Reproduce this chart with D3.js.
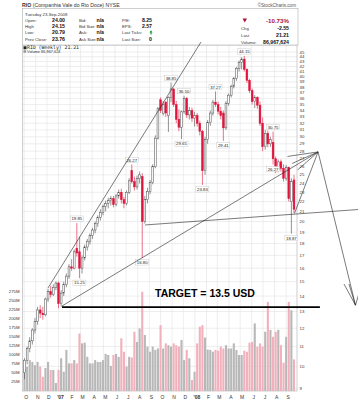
<!DOCTYPE html>
<html>
<head>
<meta charset="utf-8">
<script src="https://cdn.jsdelivr.net/npm/d3@7"></script>
<style>
body { margin: 0; background: #fff; }
svg { display: block; font-family: "Liberation Sans", Arial, sans-serif; }
</style>
</head>
<body>
<div id="chart"></div>
<script>
// weekly RIO candles, Oct 2 2006 .. Sep 22 2008
const opens = [9.7,10.3,10.9,11.3,11.9,12.4,13.1,12.9,12.8,13.8,14.3,14.1,14.6,14.9,13.5,14.2,14.8,15.4,16.1,16.0,
  17.6,17.3,16.0,16.8,17.7,18.2,18.7,19.2,19.8,20.4,20.9,21.5,21.8,22.1,22.3,21.7,22.6,23.0,22.2,21.8,
  23.0,25.5,24.2,23.6,24.6,24.8,20.0,22.2,23.1,24.1,26.0,29.8,35.8,33.5,35.4,33.2,36.2,37.7,35.0,32.6,
  31.4,33.8,36.0,33.3,34.0,32.8,33.2,32.0,30.8,25.5,29.6,32.1,33.6,35.4,35.0,33.9,33.6,31.3,35.2,36.6,
  38.2,39.6,41.6,42.8,43.5,41.4,39.3,37.4,35.5,36.2,34.9,32.0,28.6,30.5,29.0,29.2,27.0,25.6,26.6,25.8,
  24.6,25.9,22.0,24.4];
const highs = [10.4,11.0,11.5,12.0,12.6,13.3,13.4,13.3,13.9,14.5,14.7,14.8,15.0,15.0,14.4,15.0,15.6,16.3,16.7,17.5,
  19.85,18.6,17.0,17.9,18.4,18.9,19.4,20.0,20.6,21.2,21.7,22.1,22.4,22.6,22.6,22.8,23.3,23.4,22.5,23.2,
  24.6,26.27,24.8,24.9,25.4,25.2,22.6,23.5,24.4,26.3,30.2,34.6,36.2,35.6,35.6,36.4,38.85,37.9,35.6,34.2,
  34.0,36.5,36.3,34.6,34.5,33.8,33.6,32.4,31.0,30.0,32.5,34.0,35.8,37.27,35.5,34.6,34.0,35.6,36.9,38.5,
  39.9,41.9,43.2,43.9,44.15,41.6,39.6,37.8,36.6,36.4,35.5,32.9,31.0,30.9,30.0,30.75,27.3,26.9,26.9,26.3,
  26.2,26.0,24.6,25.0];
const lows = [9.4,10.1,10.7,11.1,11.7,12.2,12.6,12.5,12.7,13.6,13.9,14.0,14.4,13.2,13.3,14.0,14.6,15.2,15.8,15.9,
  16.9,15.25,15.6,16.6,17.4,17.9,18.4,18.9,19.5,20.1,20.6,21.0,21.3,21.6,21.4,21.5,22.3,21.8,21.3,21.6,
  22.8,24.0,23.2,23.3,24.0,16.8,19.8,21.8,22.8,23.9,25.8,29.6,33.6,33.2,33.0,30.7,35.4,34.6,32.0,30.8,
  29.65,33.5,32.8,32.6,32.2,31.5,31.5,30.2,23.83,25.0,29.0,31.6,33.2,34.6,33.4,32.6,29.41,31.0,34.8,36.2,
  37.8,39.2,41.0,41.4,41.0,38.8,37.0,35.0,34.4,34.3,31.6,28.0,28.2,28.5,28.6,26.27,25.2,25.3,25.4,24.2,
  24.3,22.0,18.87,20.79];
const closes = [10.3,10.9,11.3,11.9,12.4,13.1,12.9,12.8,13.8,14.3,14.1,14.6,14.9,13.5,14.2,14.8,15.4,16.1,16.0,17.3,
  17.2,16.0,16.8,17.7,18.2,18.7,19.2,19.8,20.4,20.9,21.5,21.8,22.1,22.3,21.7,22.6,23.0,22.2,21.8,23.0,
  24.3,24.2,23.6,24.6,25.0,20.0,22.2,23.1,24.1,26.0,29.8,34.3,34.0,35.0,33.6,36.2,37.7,35.0,32.6,31.4,
  33.8,36.0,33.3,34.0,32.8,33.2,32.0,30.8,25.5,29.6,32.1,33.6,35.4,35.0,33.9,33.2,31.3,35.2,36.6,38.2,
  39.6,41.6,42.8,43.5,41.4,39.3,37.4,35.5,36.2,34.9,32.0,28.6,30.5,29.0,29.6,27.0,25.6,26.6,25.8,24.6,
  25.9,22.3,24.2,21.21];
// weekly volume, millions
const volumes = [60,67,85,80,71,80,67,39,63,80,58,58,22,58,90,53,113,76,76,85,
  76,158,131,133,94,76,76,85,80,80,85,102,99,69,99,102,94,145,108,67,
  94,92,163,135,172,273,154,122,108,122,113,117,181,117,131,126,122,131,126,122,
  140,85,113,90,30,53,131,177,181,147,114,113,108,113,111,122,117,126,117,117,
  131,113,99,99,111,108,133,135,186,122,131,122,163,245,168,149,163,168,126,78,
  149,245,222,87];

const monthLabels = ["O","N","D","07","F","M","A","M","J","J","A","S",
  "O","N","D","08","F","M","A","M","J","J","A","S"];
const priceTicks = [9,10,11,12,13,14,15,16,17,18,19,20,21,22,23,24,25,26,27,28,29,30,
  31,32,33,34,35,36,37,38,39,40,41,42,43,44,45];
const volumeTicks = [25,50,75,100,125,150,175,200,225,250,275];

// swing high / low tags: [week, value, above?]
const swingLabels = [[20,19.85,true],[21,15.25,false],[41,26.27,true],[45,16.80,false],
  [56,38.85,true],[60,29.65,false],[61,36.50,true],[68,23.83,false],[73,37.27,true],
  [76,29.41,false],[84,44.15,true],[95,30.75,true],[95,26.27,false],[102,18.87,false]];

const width = 358, height = 400;
const plotLeft = 22.5, plotRight = 297, plotTop = 45, plotBottom = 391;

const weeks = d3.timeMonday.range(new Date(2006, 9, 2), new Date(2008, 8, 23));
const x = d3.scaleLinear().domain([0, weeks.length - 1]).range([24.5, 294]);
const xt = d3.scaleTime().domain([weeks[0], weeks[weeks.length - 1]]).range([24.5, 294]);
const y = d3.scaleLog().domain([9, 45]).range([388.4, 52]);
const yv = d3.scaleLinear().domain([0, 275]).range([plotBottom, 291]);

const svg = d3.select("#chart").append("svg")
    .attr("width", width)
    .attr("height", height);

svg.append("rect").attr("width", width).attr("height", height).attr("fill", "#fff");

// grid
const grid = svg.append("g");
grid.selectAll(".hg")
    .data(priceTicks)
    .enter()
    .append("line")
    .attr("x1", plotLeft).attr("x2", plotRight)
    .attr("y1", d => y(d)).attr("y2", d => y(d))
    .attr("stroke", "#e2e2e2").attr("stroke-width", 0.6);

const months = d3.timeMonth.range(new Date(2006, 9, 1), new Date(2008, 8, 2));
grid.selectAll(".vg")
    .data(months)
    .enter()
    .append("line")
    .attr("x1", d => xt(d)).attr("x2", d => xt(d))
    .attr("y1", plotTop).attr("y2", plotBottom)
    .attr("stroke", "#e2e2e2").attr("stroke-width", 0.6);

svg.append("rect")
    .attr("x", plotLeft).attr("y", plotTop)
    .attr("width", plotRight - plotLeft).attr("height", plotBottom - plotTop)
    .attr("fill", "none").attr("stroke", "#b0b0b0").attr("stroke-width", 0.6);

const isDown = i => i > 0 && closes[i] < closes[i - 1];

// volume
svg.append("g")
    .selectAll("rect")
    .data(volumes)
    .enter()
    .append("rect")
    .attr("x", (d, i) => x(i) - 1.05)
    .attr("width", 2.1)
    .attr("y", d => yv(d))
    .attr("height", d => plotBottom - yv(d))
    .attr("fill", (d, i) => isDown(i) ? "#f2b0bc" : "#b8b8b8");

// candles
const red = "#e0143c", dark = "#4a4a4a";
const candles = svg.append("g")
    .selectAll("g")
    .data(closes)
    .enter()
    .append("g");

candles.append("line")
    .attr("x1", (d, i) => x(i)).attr("x2", (d, i) => x(i))
    .attr("y1", (d, i) => y(highs[i])).attr("y2", (d, i) => y(lows[i]))
    .attr("stroke", (d, i) => isDown(i) ? red : dark)
    .attr("stroke-width", 0.6);

candles.append("rect")
    .attr("x", (d, i) => x(i) - 0.9)
    .attr("width", 1.8)
    .attr("y", (d, i) => y(Math.max(opens[i], d)))
    .attr("height", (d, i) => Math.max(0.6, Math.abs(y(opens[i]) - y(d))))
    .attr("fill", (d, i) => d > opens[i] ? "#fff" : (isDown(i) ? red : dark))
    .attr("stroke", (d, i) => isDown(i) ? red : dark)
    .attr("stroke-width", 0.5);

// swing labels
const tags = svg.append("g")
    .selectAll("g")
    .data(swingLabels)
    .enter()
    .append("g")
    .attr("transform", d => `translate(${x(d[0])},${d[2] ? y(d[1]) - 4.5 : y(d[1]) + 4.5})`);

tags.append("rect")
    .attr("x", -6.5).attr("y", -2.6)
    .attr("width", 13).attr("height", 5.2)
    .attr("fill", "#fff").attr("stroke", "#aaa").attr("stroke-width", 0.3);

tags.append("text")
    .attr("text-anchor", "middle").attr("y", 1.6)
    .attr("font-size", 4.3).attr("fill", "#222")
    .text(d => d[1].toFixed(2));

// header
svg.append("text").attr("x", 22).attr("y", 7).attr("font-size", 5.2).attr("fill", "#333")
    .html('<tspan font-weight="bold">RIO</tspan> (Companhia Vale do Rio Doce) NYSE');
svg.append("text").attr("x", 296).attr("y", 7).attr("font-size", 4.6).attr("fill", "#555")
    .attr("text-anchor", "end").text("\u00A9StockCharts.com");

svg.append("rect")
    .attr("x", plotLeft).attr("y", 8.5)
    .attr("width", plotRight - plotLeft + 1).attr("height", plotTop - 8.5)
    .attr("fill", "#fff").attr("stroke", "#b0b0b0").attr("stroke-width", 0.6);

const head = svg.append("g").attr("font-size", 4.3).attr("fill", "#333");
head.append("text").attr("x", 25).attr("y", 16).text("Tuesday  23-Sep-2008");

const headRows = [
  ["Open:", "24.00", "Bid:", "n/a", "P/E:", "8.25"],
  ["High", "24.15", "Bid Size", "n/a", "EPS:", "2.57"],
  ["Low:", "20.79", "Ask:", "n/a", "Last Ticks:", ""],
  ["Prev Close:", "23.76", "Ask Size", "n/a", "Last Size:", "0"]
];
headRows.forEach((r, k) => {
  const by = 22 + k * 6.2;
  head.append("text").attr("x", 25).attr("y", by).text(r[0]);
  head.append("text").attr("x", 65).attr("y", by).attr("text-anchor", "end")
      .attr("font-weight", "bold").attr("font-size", 5.2).attr("fill", "#111").text(r[1]);
  head.append("text").attr("x", 79).attr("y", by).text(r[2]);
  head.append("text").attr("x", 104).attr("y", by).attr("text-anchor", "end")
      .attr("font-weight", "bold").attr("font-size", 5.2).attr("fill", "#111").text(r[3]);
  head.append("text").attr("x", 122).attr("y", by).text(r[4]);
  head.append("text").attr("x", 152).attr("y", by).attr("text-anchor", "end")
      .attr("font-weight", "bold").attr("font-size", 5.2).attr("fill", "#111").text(r[5]);
});
// green up tick
head.append("path").attr("d", "M151,30.2 L152.6,32.4 L151.6,32.4 L151.6,34.6 L150.4,34.6 L150.4,32.4 L149.4,32.4 Z")
    .attr("fill", "#1a9a3a");

head.append("path").attr("d", "M242.5,18.6 L247,18.6 L244.75,22.6 Z").attr("fill", "#b0103a");
head.append("text").attr("x", 289).attr("y", 22.8).attr("text-anchor", "end")
    .attr("font-weight", "bold").attr("font-size", 6.2).attr("fill", "#b0103a").text("-10.73%");
const rightRows = [["Chg", "-2.55"], ["Last", "21.21"], ["Volume:", "86,967,624"]];
rightRows.forEach((r, k) => {
  const by = 29.8 + k * 7;
  head.append("text").attr("x", 241).attr("y", by).text(r[0]);
  head.append("text").attr("x", 289).attr("y", by).attr("text-anchor", "end")
      .attr("font-weight", "bold").attr("font-size", 5.2).attr("fill", "#111").text(r[1]);
});

// legend
svg.append("rect").attr("x", 23.5).attr("y", 46.3).attr("width", 3).attr("height", 3).attr("fill", "#222");
svg.append("text").attr("x", 27).attr("y", 49.4).attr("font-size", 4.8)
    .attr("font-family", "DejaVu Sans Mono").attr("fill", "#222").text("RIO (Weekly) 21.21");
svg.append("rect").attr("x", 23.5).attr("y", 50.2).attr("width", 2.6).attr("height", 2.6).attr("fill", "#999");
svg.append("text").attr("x", 27).attr("y", 52.9).attr("font-size", 3.9).attr("fill", "#333")
    .text("Volume 86,967,624");

// axes labels
svg.append("g").selectAll("text")
    .data(priceTicks)
    .enter()
    .append("text")
    .attr("x", 299.5).attr("y", d => y(d) + 1.5)
    .attr("font-size", 4.3).attr("fill", "#333")
    .text(d => d);

svg.append("g").selectAll("text")
    .data(volumeTicks)
    .enter()
    .append("text")
    .attr("x", 19.5).attr("y", d => yv(d) + 1.5)
    .attr("text-anchor", "end")
    .attr("font-size", 4.3).attr("fill", "#333")
    .text(d => d + "M");

svg.append("g").selectAll("text")
    .data(months)
    .enter()
    .append("text")
    .attr("x", d => xt(d) + 2)
    .attr("y", 398.5)
    .attr("text-anchor", "middle")
    .attr("font-size", 5)
    .attr("font-weight", (d, i) => monthLabels[i].length > 1 ? "bold" : "normal")
    .attr("fill", "#333")
    .text((d, i) => monthLabels[i].length > 1 ? "'" + monthLabels[i] : monthLabels[i]);

// hand-drawn annotations, in (week, price)
const ann = svg.append("g").attr("stroke", "#222").attr("stroke-width", 0.6).attr("fill", "none");
const seg = (a, b) => ann.append("line")
    .attr("x1", x(a[0])).attr("y1", y(a[1]))
    .attr("x2", x(b[0])).attr("y2", y(b[1]));

const apex = [112.2, 27.9];
seg([8.98, 14.55], [67.46, 47.2]);
seg([14.33, 13.35], apex);
seg([46.05, 19.67], [127.5, 21.18]);
seg([103.2, 20.8], apex);
seg([100.5, 27.3], apex);
seg([102.3, 26.4], apex);
seg([104.4, 25.6], apex);
seg(apex, [126.5, 13.4]);
seg([126.5, 13.4], [122.1, 14.83]);
seg([126.5, 13.4], [124.0, 14.83]);
seg([126.5, 13.4], [128.2, 14.41]);

svg.append("line")
    .attr("x1", x(14.33)).attr("x2", x(112.9))
    .attr("y1", y(13.28)).attr("y2", y(13.28))
    .attr("stroke", "#000").attr("stroke-width", 1.6);

svg.append("text")
    .attr("x", x(49.9)).attr("y", y(13.95))
    .attr("font-size", 10.5).attr("font-weight", "bold").attr("fill", "#000")
    .text("TARGET = 13.5 USD");
</script>
</body>
</html>
